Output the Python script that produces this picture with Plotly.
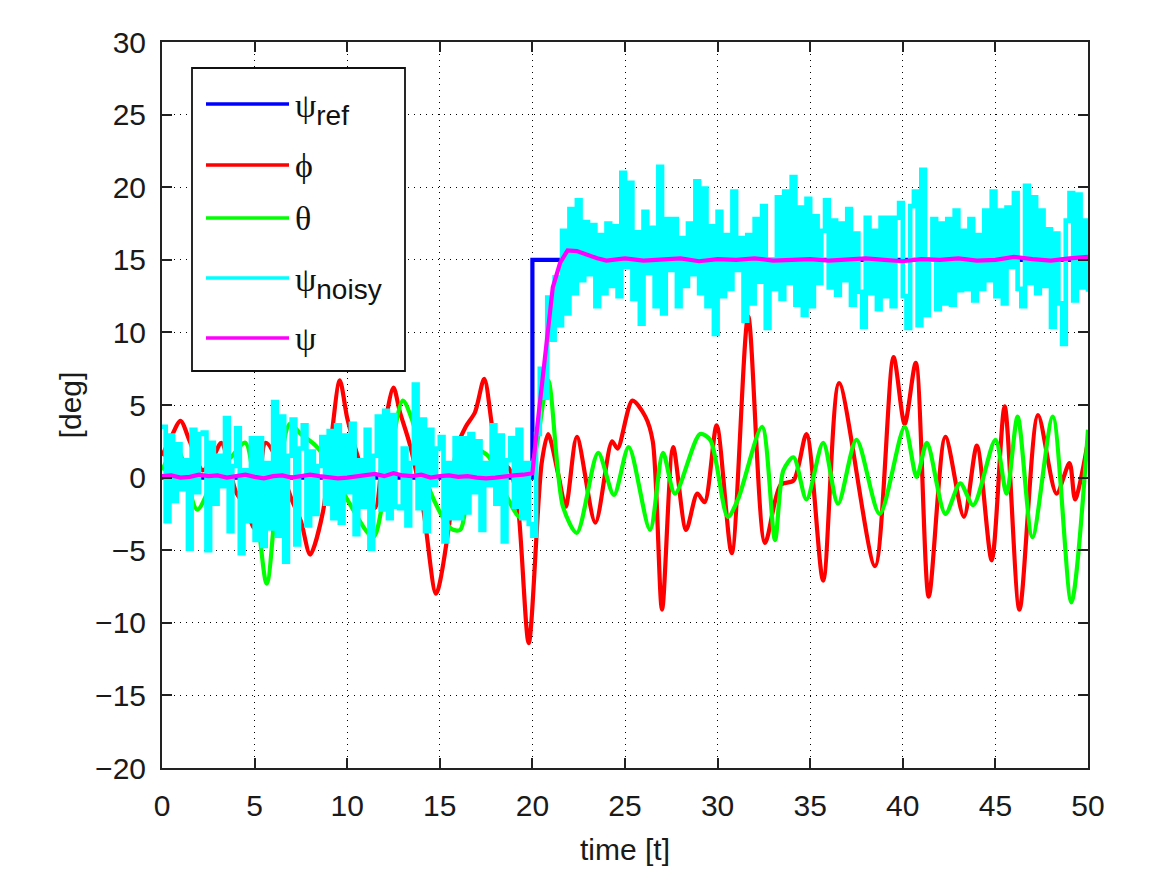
import numpy as np
import plotly.graph_objects as go

# ---- data -------------------------------------------------------------
# reference heading (step at t = 20 s)
ref_t = [0, 20, 20, 50]
ref_v = [0, 0, 15, 15]

# roll angle phi
phi_t = [0, 0.5, 1.0, 1.5, 2.2, 2.8, 3.2, 4.0, 4.5, 5.0, 5.6, 6.3, 7.0, 7.5, 8.0,
         8.7, 9.1, 9.6, 10.0, 10.4, 10.7, 11.5, 12.1, 12.5, 12.85, 13.4, 14.1, 14.8,
         15.55, 15.9, 16.4, 16.9, 17.4, 17.9, 18.25, 18.8, 19.2, 19.8, 20.5, 20.85,
         21.4, 21.8, 22.4, 23.4, 24.3, 24.6, 25.4, 26.1, 26.5, 27.0, 27.6, 28.3, 28.9,
         29.3, 29.95, 30.76, 31.65, 32.56, 33.4, 34.1, 34.8, 35.7, 36.56, 38.5, 39.5,
         40.1, 40.7, 41.4, 42.3, 43.3, 44.0, 44.8, 45.5, 46.3, 47.3, 48.3, 49.0, 49.3,
         50.0]
phi_v = [1.5, 2.8, 3.9, 2.5, 0.5, 1.5, 2.4, -1.0, -2.0, -3.5, 2.4, 1.0, -1.5, -3.0,
         -5.3, -2.3, 2.2, 6.7, 4.1, 2.2, 0.9, -2.1, 4.1, 6.2, 4.5, 2.2, -2.1, -8.0,
         -2.8, 2.0, 3.5, 4.5, 6.8, 2.9, 1.3, 0.5, -1.7, -11.4, 1.0, 3.0, 0.2, -2.0,
         2.8, -3.1, 2.5, 2.0, 5.3, 4.2, 2.5, -9.1, 2.1, -3.6, -1.1, -1.7, 3.6, -5.2,
         11.1, -4.5, -0.5, -0.2, 3.0, -7.1, 6.5, -6.1, 8.3, 3.7, 7.9, -8.2, 2.8, -2.7,
         2.2, -5.7, 4.9, -9.1, 4.3, -1.1, 1.0, -1.5, 2.5]

# pitch angle theta
theta_t = [0, 0.8, 1.9, 3.0, 3.8, 4.5, 5.65, 6.2, 6.9, 7.5, 8.3, 9.0, 10.0, 11.4,
           12.0, 13.0, 13.5, 14.5, 15.6, 16.1, 16.9, 17.6, 18.5, 19.3, 19.6, 20.2,
           20.85, 21.65, 22.4, 23.55, 24.4, 25.2, 26.35, 27.05, 27.7, 29.05, 29.6,
           30.55, 31.1, 32.4, 33.1, 33.55, 34.1, 34.8, 35.7, 36.5, 37.5, 38.75, 40.1,
           40.75, 41.3, 42.3, 43.1, 43.8, 45.0, 45.6, 46.2, 47.0, 48.1, 49.1, 50.0]
theta_v = [0.5, 2.1, -2.2, 0.5, 1.5, 2.4, -7.3, -1.1, 3.7, 3.0, 2.2, 1.0, -1.5, -4.1,
           -1.1, 5.3, 4.0, -1.0, -3.5, -3.6, 1.9, 1.5, -1.0, -2.7, -1.1, 2.0, 6.7,
           -2.0, -3.8, 1.7, -1.2, 2.1, -3.6, 1.7, -1.1, 3.0, 2.6, -2.7, -1.5, 3.5,
           -4.3, 0.5, 1.4, -1.5, 2.4, -1.8, 2.6, -2.5, 3.5, 0.05, 2.4, -2.5, -0.4,
           -1.9, 2.6, -1.1, 4.2, -4.1, 4.2, -8.6, 3.3]

# noisy heading measurement, held for 0.2 s per sample
noisy_v = [
    3.5, -3.0, 2.9, -1.6, 2.3, -0.8, 1.2, -4.9, 3.3, -1.0,
    3.0, 3.1, -5.0, 2.4, -1.8, 1.5, -0.6, 4.1, -3.7, 0.8,
    3.4, -5.2, 0.5, -3.0, 2.7, -4.3, 2.7, -4.7, 1.0, -3.5,
    5.2, -4.0, 4.2, -5.8, 1.5, 4.0, -4.6, 2.0, 3.6, -3.3,
    1.8, -2.5, 0.8, 2.8, -1.8, 3.2, -2.8, 3.6, -3.1, 2.9,
    -1.0, 3.7, -3.9, 1.2, -2.0, 3.3, -4.9, 1.5, 4.2, -2.2,
    4.6, -2.8, 4.3, -2.0, -2.1, 2.0, -3.3, 1.0, 6.4, -2.1,
    4.0, -3.7, 3.3, -0.5, 2.0, 2.8, -4.4, 1.0, -2.8, 2.7,
    -2.8, 2.7, -2.4, 3.0, -1.0, 2.5, -3.6, 1.0, -0.5, 3.6,
    -1.8, 2.9, -4.4, 1.2, 2.7, -2.0, 3.3, -2.8, 1.0, -3.2,
    -4.0, 3.0, 7.5, 5.5, 12.4, 9.5, 13.8, 10.5, 17.0, 11.3,
    18.5, 12.7, 19.1, 13.6, 17.6, 14.0, 17.4, 11.8, 16.7, 12.7,
    17.5, 13.2, 17.3, 12.5, 21.0, 14.5, 20.3, 12.3, 16.9, 10.6,
    18.3, 14.1, 17.2, 11.8, 21.4, 11.3, 17.8, 14.3, 17.8, 11.8,
    16.5, 13.2, 17.5, 14.0, 20.4, 12.7, 19.9, 11.8, 17.3, 9.9,
    18.3, 12.5, 16.7, 13.0, 19.7, 14.3, 16.5, 10.8, 16.7, 12.0,
    17.8, 13.5, 18.7, 10.3, 15.0, 13.0, 19.3, 12.3, 19.7, 13.4,
    20.7, 11.9, 18.6, 11.2, 19.2, 11.8, 18.0, 13.4, 17.0, 19.1,
    13.1, 17.7, 12.6, 17.5, 13.6, 18.5, 11.9, 16.8, 12.8, 10.4,
    17.9, 12.7, 17.0, 11.6, 17.9, 12.5, 17.9, 11.8, 17.9, 18.9,
    12.5, 10.3, 18.7, 19.7, 10.5, 21.2, 11.2, 15.0, 17.8, 11.6,
    17.5, 12.0, 17.8, 11.9, 18.4, 12.9, 17.0, 13.0, 17.8, 12.2,
    16.7, 13.0, 18.4, 13.6, 19.7, 12.5, 18.4, 12.0, 18.6, 14.5,
    19.6, 13.0, 11.8, 20.1, 13.4, 19.3, 12.7, 18.4, 13.2, 17.1,
    10.4, 16.8, 12.0, 9.2, 17.7, 19.6, 12.2, 19.5, 13.1, 17.7,
    12.8,
]
noisy_t = np.round(np.arange(len(noisy_v)) * 0.2, 2)

# filtered heading estimate psi
psi_t = [0.0, 0.5, 1.0, 1.5, 2.0, 2.5, 3.0, 3.5, 4.0, 4.5, 5.0, 5.5, 6.0, 6.5, 7.0,
         7.5, 8.0, 8.5, 9.0, 9.5, 10.0, 10.5, 11.0, 11.5, 12.0, 12.5, 13.0, 13.5,
         14.0, 14.5, 15.0, 15.5, 16.0, 16.5, 17.0, 17.5, 18.0, 18.5, 19.0, 19.5, 20.0,
         20.2, 20.5, 20.8, 21.1, 21.5, 21.9, 22.4, 23.0, 23.5, 24.0, 24.5, 25.0,
         26, 27, 28, 29, 30, 31, 32, 33, 34, 35, 36, 37, 38, 39, 40, 41, 42, 43, 44,
         45, 46, 47, 48, 49, 50]
psi_v = [0.1, 0.15, 0.0, 0.05, 0.2, 0.1, 0.15, 0.0, 0.1, 0.2, 0.05, -0.05, 0.1, 0.15,
         0.0, 0.1, 0.2, 0.1, 0.05, -0.05, 0.0, 0.1, 0.2, 0.25, 0.1, 0.3, 0.15, 0.1,
         0.2, 0.0, 0.1, 0.15, 0.05, 0.1, 0.0, -0.05, 0.0, 0.1, 0.15, 0.2, 0.3,
         2.8, 6.3, 10.2, 13.1, 14.8, 15.65, 15.6, 15.3, 15.1, 14.95, 15.0, 15.1,
         14.95, 15.0, 15.1, 14.9, 15.05, 15.0, 15.1, 14.95, 15.0, 15.05, 14.95, 15.0,
         15.1, 15.0, 14.9, 15.05, 15.0, 15.1, 14.95, 15.0, 15.2, 15.05, 14.95, 15.1,
         15.2]

x_ticks = list(range(0, 51, 5))
y_ticks = list(range(-20, 31, 5))

GREEK = '<span style="font-family:Liberation Serif;font-size:34px">{}</span>'
legend_labels = [
    GREEK.format("ψ") + "<sub>ref</sub>",
    GREEK.format("ϕ"),
    GREEK.format("θ"),
    GREEK.format("ψ") + "<sub>noisy</sub>",
    GREEK.format("ψ"),
]
colors = ["#0000ff", "#ff0000", "#00ff00", "#00ffff", "#ff00ff"]

# ---- figure -----------------------------------------------------------
LW = 4.2
fig = go.Figure()
fig.add_trace(go.Scatter(x=ref_t, y=ref_v, mode="lines",
                         line=dict(color=colors[0], width=LW)))
fig.add_trace(go.Scatter(x=phi_t, y=phi_v, mode="lines",
                         line=dict(color=colors[1], width=LW, shape="spline", smoothing=0.8)))
fig.add_trace(go.Scatter(x=theta_t, y=theta_v, mode="lines",
                         line=dict(color=colors[2], width=LW, shape="spline", smoothing=0.8)))
fig.add_trace(go.Scatter(x=noisy_t, y=noisy_v, mode="lines",
                         line=dict(color=colors[3], width=4.6, shape="hv")))
fig.add_trace(go.Scatter(x=psi_t, y=psi_v, mode="lines",
                         line=dict(color=colors[4], width=LW)))

axis_font = dict(family="Liberation Sans, Arial, sans-serif", size=30, color="#1a1a1a")
common_axis = dict(
    showline=True, linecolor="#222222", linewidth=2, mirror="ticks",
    ticks="inside", ticklen=10, tickwidth=1.5, tickcolor="#222222",
    showgrid=True, gridcolor="#000000", gridwidth=1, griddash="1px,5px",
    zeroline=False, tickfont=axis_font,
)
fig.update_xaxes(range=[0, 50], tickvals=x_ticks, ticklabelstandoff=10,
                 title=dict(text="time [t]", font=axis_font, standoff=18),
                 **common_axis)
fig.update_yaxes(range=[-20, 30], tickvals=y_ticks, ticklabelstandoff=8,
                 title=dict(text="[deg]", font=axis_font, standoff=5),
                 **common_axis)

# legend box drawn in paper coordinates
px0, px1 = 162.0, 1088.0
py0, py1 = 42.0, 768.0


def xp(px):
    return (px - px0) / (px1 - px0)


def yp(py):
    return 1 - (py - py0) / (py1 - py0)


fig.add_shape(type="rect", xref="paper", yref="paper",
              x0=xp(192), x1=xp(405), y0=yp(371), y1=yp(68),
              fillcolor="white", line=dict(color="#111111", width=1.8), layer="above")
entry_y = [104, 165, 218, 278, 338]
text_shift = [-5, 0, 0, -5, 0]
for lab, col, ey, sh in zip(legend_labels, colors, entry_y, text_shift):
    fig.add_shape(type="line", xref="paper", yref="paper",
                  x0=xp(206), x1=xp(289), y0=yp(ey), y1=yp(ey),
                  line=dict(color=col, width=3.4), layer="above")
    fig.add_annotation(xref="paper", yref="paper", x=xp(293), y=yp(ey),
                       xanchor="left", yanchor="middle", showarrow=False, yshift=sh,
                       text=lab, font=dict(family="Liberation Sans, Arial, sans-serif",
                                           size=40, color="#111111"))

fig.update_layout(
    width=1149, height=874,
    margin=dict(l=162, r=61, t=42, b=106),
    paper_bgcolor="white", plot_bgcolor="white",
    showlegend=False,
)

fig.write_html("out.html")
